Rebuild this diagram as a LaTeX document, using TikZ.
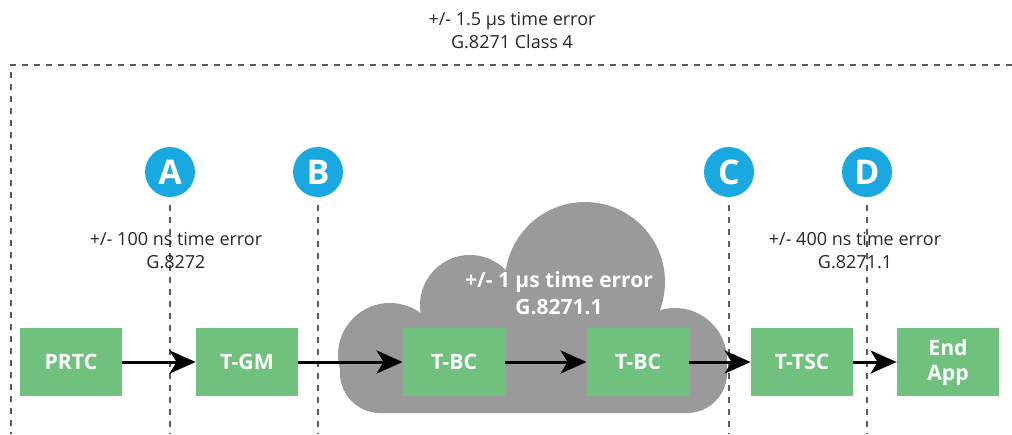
\documentclass[tikz,border=0pt]{standalone}
\usepackage{fontspec}
\setmainfont{Open Sans}
\usetikzlibrary{arrows.meta}
\definecolor{boxgreen}{HTML}{6FC17D}
\definecolor{markblue}{HTML}{1AA8E1}
\definecolor{cloudgray}{HTML}{9A9A9A}
\definecolor{guidegray}{HTML}{5A5A5A}
\begin{document}
\begin{tikzpicture}[x=0.5pt,y=-0.5pt,
  box/.style={fill=boxgreen,minimum width=51pt,minimum height=34pt,inner sep=0pt,
    text=white,align=center,font=\fontsize{10.6}{12.5}\selectfont\bfseries},
  marker/.style={circle,fill=markblue,minimum size=25pt,inner sep=0pt,
    text=white,font=\fontsize{17}{17}\selectfont\bfseries},
  guide/.style={draw=guidegray,line width=1.2pt,dash pattern=on 3pt off 3pt},
  link/.style={-{Stealth[length=13pt,width=11.5pt,inset=3.5pt]},line width=1.5pt},
  note/.style={align=center,text=black!85,font=\fontsize{9}{11.5}\selectfont}]
 \useasboundingbox (0,0) rectangle (1012,434);
 \coordinate (corner) at (11,65); \coordinate (edge) at (1012,65);
 \coordinate (bot) at (0,434);
 % cloud
 \fill[cloudgray] (390,355) circle (52) (470,305) circle (50)
   (585,282) circle (80) (675,360) circle (52);
 \fill[cloudgray] (440,310) rectangle (680,340);
 \fill[cloudgray,rounded corners=20pt] (340,328) rectangle (727,413);
 % frame and markers
 \draw[guide] (edge) -- (corner) -- (corner |- bot);
 \node[marker] (A) at (170,172) {A}; \node[marker] (B) at (318,172) {B};
 \node[marker] (C) at (729,172) {C}; \node[marker] (D) at (867,172) {D};
 \foreach \m in {A,B,C,D}
   \draw[guide] ([yshift=-4pt]\m.south) -- (\m.south |- bot);
 % texts
 \node[note] (classerr) at (512,31) {+/- 1.5 µs time error\\G.8271 Class 4};
 \node[note] (gmerr) at (176,251) {+/- 100 ns time error\\G.8272};
 \node[note] (tscerr) at (855,251) {+/- 400 ns time error\\G.8271.1};
 \node[note,text=white,font=\fontsize{10.5}{13.5}\selectfont\bfseries] (clouderr)
   at (559,293) {+/- 1 µs time error\\G.8271.1};
 % chain
 \node[box] (prtc) at (71,362) {PRTC};
 \node[box] (tgm) at (247,362) {T-GM};
 \node[box] (tbca) at (454,362) {T-BC};
 \node[box] (tbcb) at (638,362) {T-BC};
 \node[box] (ttsc) at (802,362) {T-TSC};
 \node[box] (app) at (948,362) {End\\App};
 \draw[link] (prtc) -- (tgm); \draw[link] (tgm) -- (tbca);
 \draw[link] (tbca) -- (tbcb); \draw[link] (tbcb) -- (ttsc);
 \draw[link] (ttsc) -- (app);
\end{tikzpicture}
\end{document}
